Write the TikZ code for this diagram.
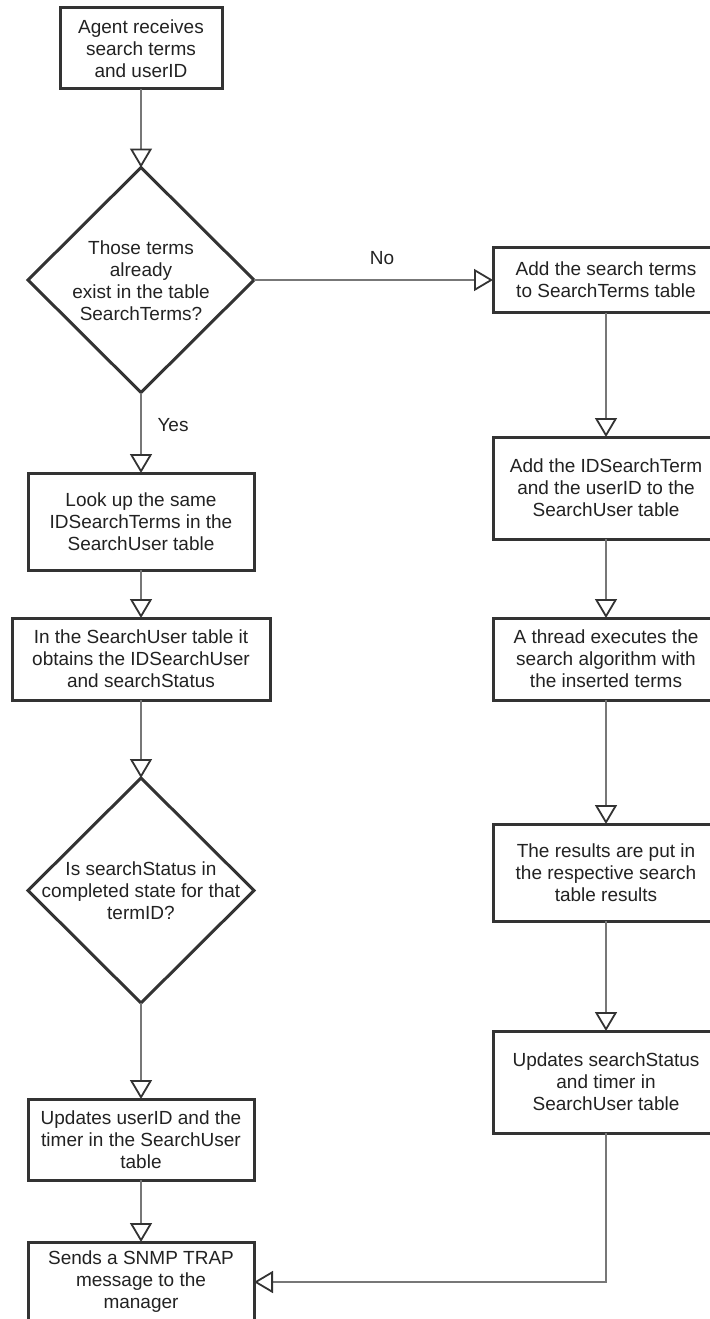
\documentclass[tikz,border=0pt]{standalone}
\usepackage{fontspec}
\setmainfont{Liberation Sans}
\usetikzlibrary{arrows.meta,shapes.geometric}
\definecolor{boxline}{HTML}{333333}
\definecolor{wire}{HTML}{777777}
\definecolor{ink}{HTML}{222222}
\begin{document}
\begin{tikzpicture}[x=1pt,y=-1pt,
  every node/.style={font=\fontsize{19}{22}\selectfont, text=ink, align=center},
  procbox/.style={draw=boxline, line width=3pt, rectangle, inner sep=0pt, outer sep=0pt, fill=white},
  decision/.style={draw=boxline, line width=3pt, diamond, inner sep=0pt, outer sep=0pt,
    minimum width=226pt, minimum height=225pt},
  flow/.style={draw=wire, line width=2pt,
    -{Triangle[open, length=19pt, width=22pt, line width=1.8pt, color=boxline]}},
  tag/.style={inner sep=0pt}
]
\useasboundingbox (0,0) rectangle (709,1319);

% left column
\node[procbox, minimum width=162pt, minimum height=81pt] (agent) at (141,48.5)
  {Agent receives\\search terms\\and userID};
\node[decision] (exists) at (141,280) {};
\node at (141,281) {Those terms\\already\\exist in the table\\SearchTerms?};
\node[procbox, minimum width=226pt, minimum height=97pt] (lookup) at (141,521.5)
  {Look up the same\\IDSearchTerms in the\\SearchUser table};
\node[procbox, minimum width=258pt, minimum height=82pt] (obtain) at (141,659)
  {In the SearchUser table it\\obtains the IDSearchUser\\and searchStatus};
\node[decision] (done) at (141,890.5) {};
\node at (141,891) {Is searchStatus in\\completed state for that\\termID?};
\node[procbox, minimum width=226pt, minimum height=81pt] (touch) at (141,1139.5)
  {Updates userID and the\\timer in the SearchUser\\table};
\node[procbox, minimum width=226pt, minimum height=80pt] (trap) at (141,1282)
  {Sends a SNMP TRAP\\message to the\\manager};

% right column
\node[procbox, minimum width=226pt, minimum height=65pt] (addterms) at (606,280)
  {Add the search terms\\to SearchTerms table};
\node[procbox, minimum width=226pt, minimum height=102pt] (adduser) at (606,488)
  {Add the IDSearchTerm\\and the userID to the\\SearchUser table};
\node[procbox, minimum width=226pt, minimum height=82pt] (thread) at (606,659)
  {A thread executes the\\search algorithm with\\the inserted terms};
\node[procbox, minimum width=226pt, minimum height=97pt] (results) at (606,872.5)
  {The results are put in\\the respective search\\table results};
\node[procbox, minimum width=226pt, minimum height=102pt] (status) at (606,1082)
  {Updates searchStatus\\and timer in\\SearchUser table};

% branch labels
\node[tag] (nolabel) at (382,258) {No};
\node[tag] (yeslabel) at (173,425) {Yes};

% connectors
\draw[flow] (agent.south) -- (exists.north);
\draw[flow] (exists.east) -- (addterms.west);
\draw[flow] (exists.south) -- (lookup.north);
\draw[flow] (lookup.south) -- (obtain.north);
\draw[flow] (obtain.south) -- (done.north);
\draw[flow] (done.south) -- (touch.north);
\draw[flow] (touch.south) -- (trap.north);
\draw[flow] (addterms.south) -- (adduser.north);
\draw[flow] (adduser.south) -- (thread.north);
\draw[flow] (thread.south) -- (results.north);
\draw[flow] (results.south) -- (status.north);
\draw[flow] (status.south) |- (trap.east);
\end{tikzpicture}
\end{document}
